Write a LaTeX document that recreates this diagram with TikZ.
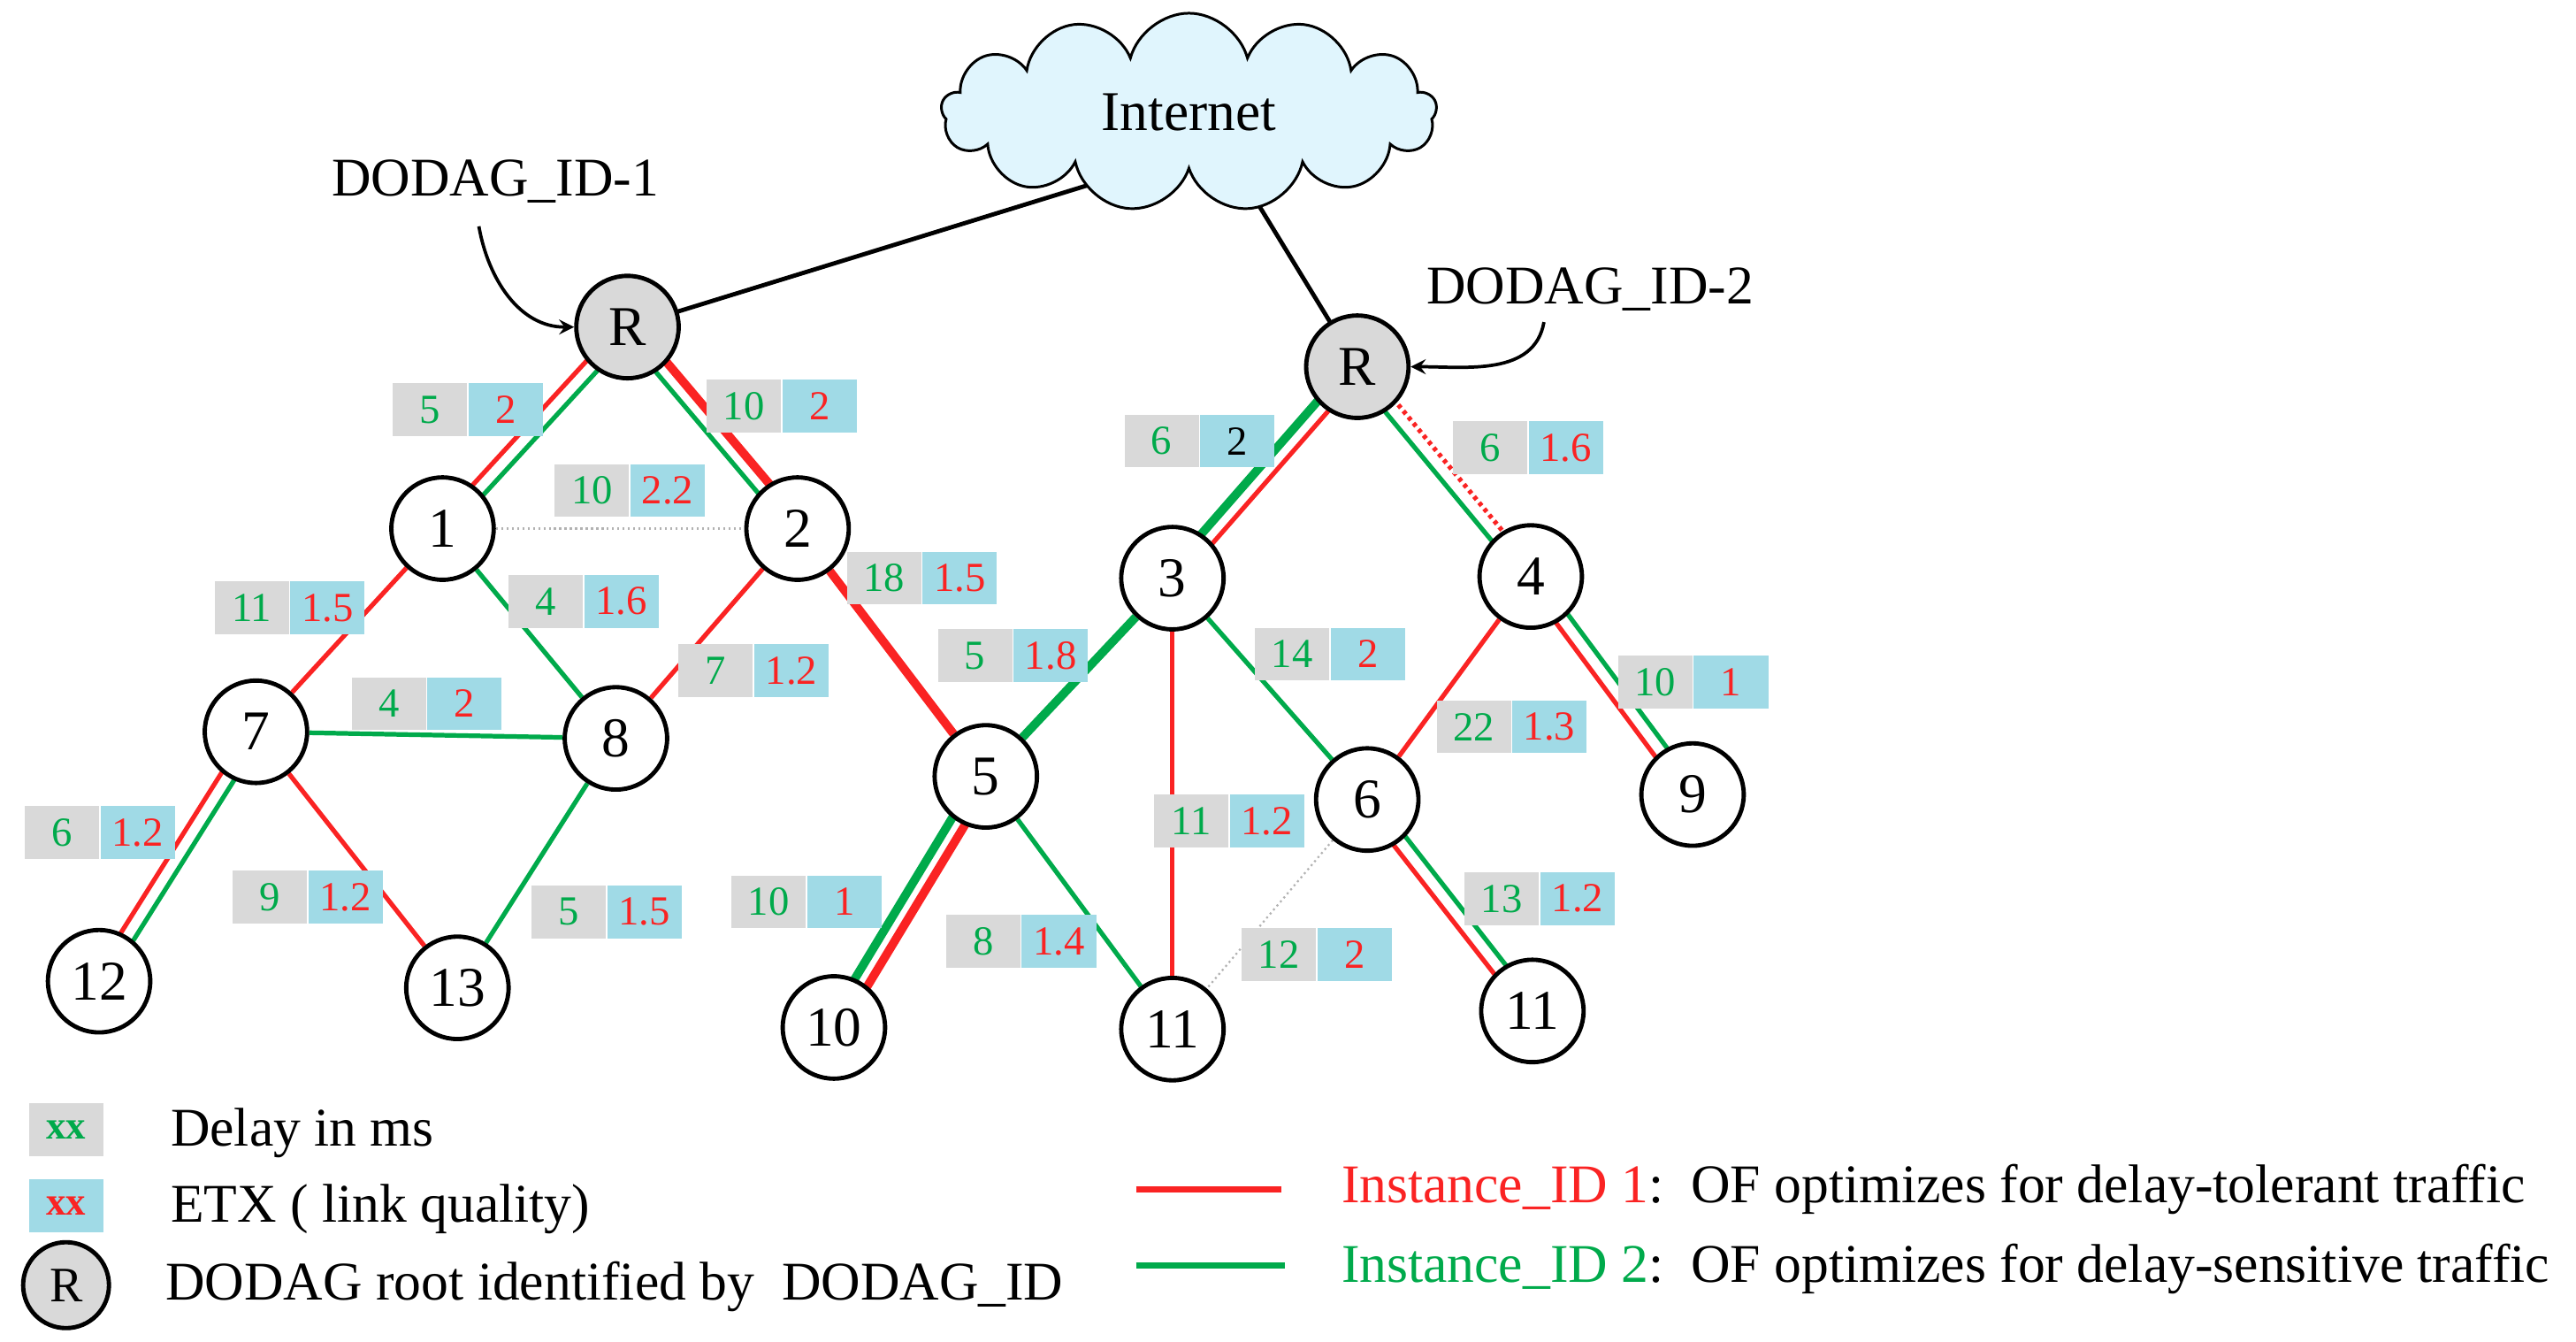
\documentclass[tikz,border=0pt]{standalone}
\usepackage{fontspec}
\setmainfont{Liberation Serif}
\usetikzlibrary{positioning,calc,shapes.symbols,backgrounds}
\definecolor{gn}{RGB}{0,170,75}
\definecolor{rd}{RGB}{250,35,35}
\definecolor{gbox}{RGB}{217,217,217}
\definecolor{bbox}{RGB}{160,218,230}
\tikzset{
  nd/.style={circle,draw,line width=1.3pt,fill=white,minimum size=31pt,inner sep=0pt,font=\fontsize{17}{17}\selectfont},
  root/.style={nd,fill=gbox},
  dly/.style={fill=gbox,text=gn,minimum width=22.5pt,minimum height=16pt,inner sep=0pt,font=\fontsize{12.5}{12.5}\selectfont},
  etx/.style={fill=bbox,text=rd,minimum width=22.5pt,minimum height=16pt,inner sep=0pt,font=\fontsize{12.5}{12.5}\selectfont},
  rl/.style={rd,line width=1.4pt},
  gl/.style={gn,line width=1.4pt},
  rt/.style={rd,line width=2.6pt},
  gt/.style={gn,line width=2.6pt},
  faint/.style={gray!60,line width=0.6pt,densely dotted},
  txt/.style={font=\fontsize{16.5}{16.5}\selectfont,inner sep=0pt}
}
% link metrics: gray delay box followed by blue etx box
\newcommand\metric[4]{\node[dly] (d#1) at (#2) {#3}; \node[etx,right=0pt of d#1] (e#1) {#4};}
% two instances run side by side
\newcommand\twin[4]{%
  \draw[#3] ($(#1.center)!2.2pt!-90:(#2.center)$) -- ($(#2.center)!2.2pt!90:(#1.center)$);
  \draw[#4] ($(#1.center)!2.2pt!90:(#2.center)$) -- ($(#2.center)!2.2pt!-90:(#1.center)$);}
\begin{document}
\begin{tikzpicture}[x=0.5pt,y=-0.5pt]
  \useasboundingbox (0,0) rectangle (1560,812);
  \node[cloud,cloud puffs=13,aspect=2.4,draw,line width=0.8pt,fill=cyan!12,minimum width=150pt,minimum height=60pt,font=\fontsize{17}{17}\selectfont] (net) at (720,68) {Internet};
  \node[root] (r1) at (380,198) {R};
  \node[root] (r2) at (822,222) {R};
  \node[nd] (n1) at (268,320) {1};
  \node[nd] (n2) at (483,320) {2};
  \node[nd] (n7) at (155,443) {7};
  \node[nd] (n8) at (373,447) {8};
  \node[nd] (n12) at (60,594) {12};
  \node[nd] (n13) at (277,598) {13};
  \node[nd] (n5) at (597,470) {5};
  \node[nd] (n10) at (505,622) {10};
  \node[nd] (n3) at (710,350) {3};
  \node[nd] (n4) at (927,349) {4};
  \node[nd] (n6) at (828,484) {6};
  \node[nd] (n9) at (1025,481) {9};
  \node[nd] (n11a) at (710,623) {11};
  \node[nd] (n11b) at (928,612) {11};
  \begin{scope}[on background layer]
    \draw[line width=1.3pt] (net.south west) ++(50,0) coordinate (c1) -- (r1.center);
    \draw[line width=1.3pt] (net.south) ++(30,0) coordinate (c2) -- (r2.center);
    \twin{r1}{n1}{rl}{gl}
    \twin{r1}{n2}{gl}{rt}
    \draw[faint] (n1) -- (n2);
    \draw[rl] (n1) -- (n7);
    \draw[gl] (n1) -- (n8);
    \draw[rl] (n2) -- (n8);
    \draw[gl] (n7) -- (n8);
    \twin{n7}{n12}{rl}{gl}
    \draw[rl] (n7) -- (n13);
    \draw[gl] (n8) -- (n13);
    \draw[rt] (n2) -- (n5);
    \draw[gt] (n5) -- (n3);
    \twin{n5}{n10}{gt}{rt}
    \draw[gl] (n5) -- (n11a);
    \draw[rl] (n3) -- (n11a);
    \twin{r2}{n3}{gt}{rl}
    \twin{r2}{n4}{gl}{rd,line width=1.4pt,dash pattern=on 1.2pt off 1.2pt}
    \draw[gl] (n3) -- (n6);
    \draw[rl] (n4) -- (n6);
    \twin{n4}{n9}{rl}{gl}
    \twin{n6}{n11b}{rl}{gl}
    \draw[faint] (n6) -- (n11a);
  \end{scope}
  % labels on the links
  \metric{a}{260.5,248}{5}{2}
  \metric{b}{450.5,246}{10}{2}
  \metric{c}{358.5,297}{10}{2.2}
  \metric{d}{152.5,368}{11}{1.5}
  \metric{e}{330.5,364}{4}{1.6}
  \metric{f}{235.5,426}{4}{2}
  \metric{g}{433.5,406}{7}{1.2}
  \metric{h}{535.5,350}{18}{1.5}
  \metric{i}{37.5,504}{6}{1.2}
  \metric{j}{163.5,543}{9}{1.2}
  \metric{k}{344.5,552}{5}{1.5}
  \node[dly] (dl) at (703.5,267) {6}; \node[etx,text=black,right=0pt of dl] (el) {2};
  \metric{m}{902.5,271}{6}{1.6}
  \metric{n}{590.5,397}{5}{1.8}
  \metric{o}{782.5,396}{14}{2}
  \metric{p}{1002.5,413}{10}{1}
  \metric{q}{892.5,440}{22}{1.3}
  \metric{s}{721.5,497}{11}{1.2}
  \metric{t}{909.5,544}{13}{1.2}
  \metric{u}{465.5,546}{10}{1}
  \metric{v}{595.5,570}{8}{1.4}
  \metric{w}{774.5,578}{12}{2}
  % root labels
  \node[txt] (id1) at (300,110) {DODAG\_ID-1};
  \node[txt] (id2) at (963,175) {DODAG\_ID-2};
  \draw[-stealth,line width=1pt] (290,137) to[out=-80,in=180] (r1.west);
  \draw[-stealth,line width=1pt] (935,195) to[out=-100,in=0] (r2.east);
  % legend
  \node[dly,font=\bfseries\fontsize{12}{12}\selectfont] (lg1) at (40,684) {xx};
  \node[etx,font=\bfseries\fontsize{12}{12}\selectfont] (lg2) at (40,730) {xx};
  \node[root,minimum size=26pt,font=\fontsize{15}{15}\selectfont] (lg3) at (40,778) {R};
  \node[txt,anchor=west] (t1) at (103,686) {Delay in ms};
  \node[txt,anchor=west] (t2) at (103,732) {ETX ( link quality)};
  \node[txt,anchor=west] (t3) at (100,779) {DODAG root identified by~~DODAG\_ID};
  \coordinate (a1) at (688,720); \coordinate (b1) at (776,720);
  \coordinate (a2) at (688,766); \coordinate (b2) at (778,766);
  \draw[rl,line width=2pt] (a1) -- (b1);
  \draw[gl,line width=2pt] (a2) -- (b2);
  \node[txt,anchor=west] (t4) at (812,720) {\textcolor{rd}{Instance\_ID 1}:~~OF optimizes for delay-tolerant traffic};
  \node[txt,anchor=west] (t5) at (812,768) {\textcolor{gn}{Instance\_ID 2}:~~OF optimizes for delay-sensitive traffic};
\end{tikzpicture}
\end{document}
